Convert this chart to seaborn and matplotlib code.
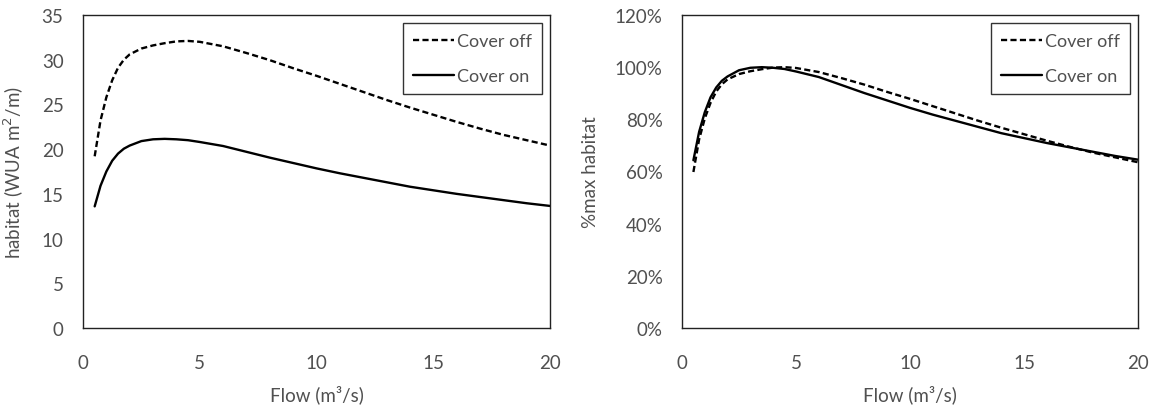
import numpy as np
import pandas as pd
import matplotlib
matplotlib.use("Agg")
import matplotlib.pyplot as plt
import seaborn as sns
from matplotlib.ticker import FuncFormatter, MultipleLocator

# Flow (m3/s) and weighted usable area (WUA m2/m) for the two cover settings
flow = [0.5, 0.75, 1.0, 1.25, 1.5, 1.75, 2.0, 2.5, 3.0, 3.5, 4.0, 4.5, 5.0, 6.0, 7.0,
        8.0, 9.0, 10.0, 11.0, 12.0, 13.0, 14.0, 15.0, 16.0, 17.0, 18.0, 19.0, 20.0]
cover_off = [19.2, 23.2, 25.8, 27.7, 29.1, 30.0, 30.6, 31.25, 31.6, 31.85, 32.05, 32.1,
             32.0, 31.5, 30.75, 29.95, 29.05, 28.2, 27.3, 26.4, 25.5, 24.65, 23.85,
             23.05, 22.3, 21.6, 21.0, 20.4]
cover_on = [13.6, 15.9, 17.5, 18.7, 19.5, 20.05, 20.4, 20.9, 21.1, 21.15, 21.1, 21.0,
            20.8, 20.35, 19.7, 19.05, 18.45, 17.85, 17.3, 16.8, 16.3, 15.8, 15.4, 15.0,
            14.65, 14.3, 13.95, 13.65]
series_labels = ["Cover off", "Cover on"]

rows = []
for name, vals in zip(series_labels, [cover_off, cover_on]):
    vals = np.asarray(vals)
    for f, v, p in zip(flow, vals, vals / vals.max()):
        rows.append({"flow": f, "habitat": v, "pct": p, "series": name})
df = pd.DataFrame(rows)

sns.set_theme(style="white")
plt.rcParams["font.family"] = ["Lato", "DejaVu Sans"]
text_col = "#505050"
fs = 13.5
fs_leg = 13

W, H = 1156, 410
fig = plt.figure(figsize=(W / 100, H / 100), dpi=100)
ax1 = fig.add_axes([83 / W, 1 - 329 / H, (550 - 83) / W, (329 - 16) / H])
ax2 = fig.add_axes([682 / W, 1 - 329 / H, (1138 - 682) / W, (329 - 16) / H])

styles = {"Cover off": (0, (2.6, 1.4)), "Cover on": "-"}

for ax, ycol in [(ax1, "habitat"), (ax2, "pct")]:
    for name in series_labels:
        sub = df[df["series"] == name]
        sns.lineplot(data=sub, x="flow", y=ycol, ax=ax, color="black", lw=1.7,
                     linestyle=styles[name], label=name, estimator=None, sort=True)
    ax.set_xlim(0, 20)
    ax.xaxis.set_major_locator(MultipleLocator(5))
    for s in ax.spines.values():
        s.set_color("#222222")
        s.set_linewidth(1.0)
        s.set_visible(True)
    ax.tick_params(axis="both", direction="out", length=6, width=1, color="#333333",
                   labelsize=fs, labelcolor=text_col)
    ax.tick_params(axis="x", pad=13)
    ax.tick_params(axis="y", pad=8)
    ax.set_xlabel("Flow (m\u00b3/s)", fontsize=fs, color=text_col, labelpad=9)
    leg = ax.legend(loc="upper right", fontsize=fs_leg, handlelength=2.3, handletextpad=0.15,
                    frameon=True, fancybox=False, borderpad=0.55, labelspacing=1.05,
                    borderaxespad=0.45)
    leg.get_frame().set_edgecolor("black")
    leg.get_frame().set_linewidth(1.0)
    for t in leg.get_texts():
        t.set_color(text_col)

ax1.set_ylim(0, 35)
ax1.yaxis.set_major_locator(MultipleLocator(5))
ax1.set_ylabel("habitat (WUA m$^2$/m)", fontsize=fs, color=text_col, labelpad=11)

ax2.set_ylim(0, 1.2)
ax2.yaxis.set_major_locator(MultipleLocator(0.2))
ax2.yaxis.set_major_formatter(FuncFormatter(lambda v, _: f"{v * 100:.0f}%"))
ax2.set_ylabel("%max habitat", fontsize=fs, color=text_col, labelpad=11)

fig.savefig("out.png", dpi=100)
